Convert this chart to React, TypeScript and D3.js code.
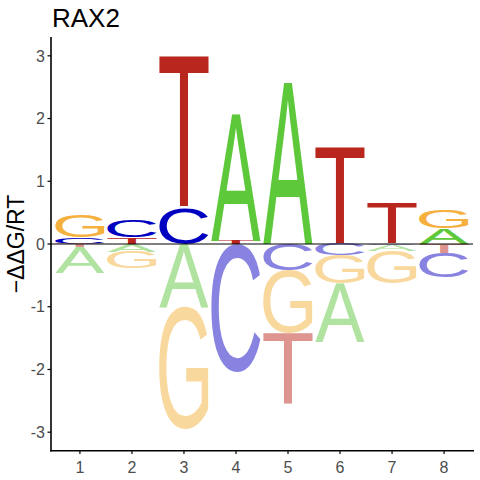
import React from 'react';
import * as d3 from 'd3';

// Energy logo for RAX2: one -ddG/RT value per base and position
const positions = [1, 2, 3, 4, 5, 6, 7, 8];
const bases = ['A', 'C', 'G', 'T'];
const valuesA = [-0.41, -0.12, -1.0, 2.02, 2.57, -0.93, -0.09, 0.25];
const valuesC = [0.1, 0.27, 0.57, -2.03, -0.42, -0.18, -0.02, -0.39];
const valuesG = [0.35, -0.27, -1.95, 0, -1.0, -0.45, -0.52, 0.29];
const valuesT = [-0.05, 0.11, 2.43, 0.05, -1.14, 1.56, 0.64, -0.14];
const yTicks = [-3, -2, -1, 0, 1, 2, 3];

const posColors: Record<string, string> = {
  A: '#5DC83A',
  C: '#0000C0',
  G: '#F5B03E',
  T: '#B8261E',
};
const negColors: Record<string, string> = {
  A: '#B0E2A0',
  C: '#8883E0',
  G: '#F9D89D',
  T: '#DE948F',
};

const W = 480;
const H = 480;
const FONT = "'Liberation Sans', Arial, sans-serif";

// ink box of each glyph, so a letter can be stretched to fill its stack slot
const measureGlyphs = () => {
  const canvas = document.createElement('canvas');
  const ctx = canvas.getContext('2d')!;
  ctx.font = `100px ${FONT}`;
  const out: Record<string, { left: number; w: number; desc: number; h: number }> = {};
  bases.forEach(b => {
    const m = ctx.measureText(b);
    out[b] = {
      left: m.actualBoundingBoxLeft,
      w: m.actualBoundingBoxLeft + m.actualBoundingBoxRight,
      desc: m.actualBoundingBoxDescent,
      h: m.actualBoundingBoxAscent + m.actualBoundingBoxDescent,
    };
  });
  return out;
};

const App: React.FC = () => {
  const glyphs = measureGlyphs();

  const x = d3.scaleLinear().domain([0.444, 8.556]).range([51, 473]);
  const y = d3.scaleLinear().domain([-3.3, 3.3]).range([451, 37]);
  const half = 0.475;

  const table: Record<string, number[]> = { A: valuesA, C: valuesC, G: valuesG, T: valuesT };

  // stack letters: smallest magnitude nearest the zero line
  const letters: { base: string; pos: number; y0: number; y1: number; neg: boolean }[] = [];
  positions.forEach((p, i) => {
    const col = bases.map(b => ({ base: b, v: table[b][i] }));
    const pos = col.filter(d => d.v > 0).sort((a, b) => a.v - b.v);
    const neg = col.filter(d => d.v < 0).sort((a, b) => b.v - a.v);
    let acc = 0;
    pos.forEach(d => {
      letters.push({ base: d.base, pos: p, y0: acc, y1: acc + d.v, neg: false });
      acc += d.v;
    });
    acc = 0;
    neg.forEach(d => {
      letters.push({ base: d.base, pos: p, y0: acc + d.v, y1: acc, neg: true });
      acc += d.v;
    });
  });

  return (
    <svg width={W} height={H} style={{ position: 'absolute', left: 0, top: 0, background: '#fff' }}>
      <rect width={W} height={H} fill="#fff" />
      {letters.map((l, i) => {
        const g = glyphs[l.base];
        const px0 = x(l.pos - half);
        const px1 = x(l.pos + half);
        const pyTop = y(l.y1);
        const pyBot = y(l.y0);
        const sx = (px1 - px0) / g.w;
        const sy = (pyBot - pyTop) / g.h;
        return (
          <g key={i} transform={`translate(${px0},${pyBot}) scale(${sx},${sy})`}>
            <text
              x={g.left}
              y={-g.desc}
              fontFamily={FONT}
              fontSize={100}
              fill={l.neg ? negColors[l.base] : posColors[l.base]}
            >
              {l.base}
            </text>
          </g>
        );
      })}

      {/* zero line */}
      <line x1={51} x2={473} y1={y(0)} y2={y(0)} stroke="#000" strokeWidth={1} />

      {/* axes */}
      <line x1={51} x2={51} y1={37} y2={451.5} stroke="#000" strokeWidth={1.6} />
      <line x1={50.2} x2={474} y1={450.7} y2={450.7} stroke="#000" strokeWidth={1.6} />

      {yTicks.map(t => (
        <g key={t}>
          <line x1={47.5} x2={51} y1={y(t)} y2={y(t)} stroke="#000" strokeWidth={1.2} />
          <text
            x={45}
            y={y(t)}
            dy="0.36em"
            textAnchor="end"
            fontFamily={FONT}
            fontSize={16}
            fill="#4D4D4D"
          >
            {t < 0 ? `-${Math.abs(t)}` : t}
          </text>
        </g>
      ))}

      {positions.map(p => (
        <g key={p}>
          <line x1={x(p)} x2={x(p)} y1={450.7} y2={454} stroke="#000" strokeWidth={1.2} />
          <text
            x={x(p)}
            y={473.4}
            textAnchor="middle"
            fontFamily={FONT}
            fontSize={16}
            fill="#4D4D4D"
          >
            {p}
          </text>
        </g>
      ))}

      <text
        transform={`translate(24,${(37 + 451) / 2}) rotate(-90)`}
        textAnchor="middle"
        fontFamily={FONT}
        fontSize={23}
        fill="#000"
      >
        −ΔΔG/RT
      </text>

      <text x={52} y={26.7} fontFamily={FONT} fontSize={26} fill="#000">
        RAX2
      </text>
    </svg>
  );
};

export default App;
